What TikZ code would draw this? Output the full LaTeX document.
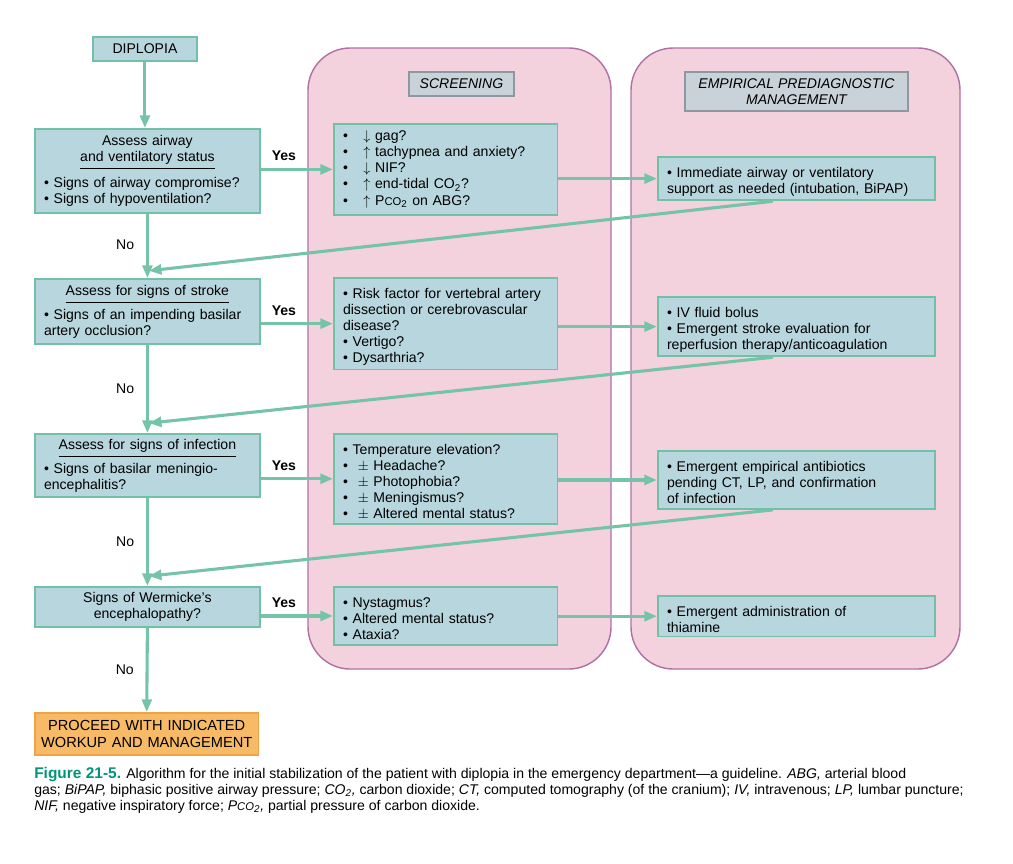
\documentclass[tikz,border=0pt]{standalone}
\usepackage{fontspec}
\setmainfont{Liberation Sans}
\usepackage{tikz}
\usetikzlibrary{arrows.meta,calc,positioning}
\definecolor{boxfill}{RGB}{184,214,222}
\definecolor{boxline}{RGB}{114,192,165}
\definecolor{flowcol}{RGB}{118,196,168}
\definecolor{panelfill}{RGB}{243,210,221}
\definecolor{panelline}{RGB}{176,112,166}
\definecolor{headfill}{RGB}{200,210,216}
\definecolor{headline}{RGB}{140,152,162}
\definecolor{endfill}{RGB}{247,186,102}
\definecolor{endline}{RGB}{242,162,64}
\definecolor{figgreen}{RGB}{0,148,120}

\newcommand{\bitem}{\par\hangindent=0.62em\hangafter=1\noindent\textbullet\ }
\newcommand{\headln}[1]{\underline{\strut #1}}

\begin{document}
\begin{tikzpicture}[x=0.025cm, y=-0.025cm,
    flowbox/.style={draw=boxline, fill=boxfill, line width=1.3pt, inner xsep=6.5pt, inner ysep=3pt,
        font=\fontsize{10}{11.4}\selectfont, anchor=north west, align=left},
    headbox/.style={draw=headline, fill=headfill, line width=1.3pt, inner sep=2pt,
        font=\fontsize{10}{11.4}\selectfont\itshape, align=center, anchor=north west},
    panel/.style={draw=panelline, fill=panelfill, line width=1pt, rounded corners=30pt},
    flow/.style={draw=flowcol, line width=2.2pt, -{Triangle[length=9pt,width=7pt]}},
    yeslbl/.style={font=\fontsize{10}{12}\selectfont\bfseries, above=1.5pt},
    nolbl/.style={font=\fontsize{10}{12}\selectfont, left=5pt}]
    \useasboundingbox (0,0) rectangle (1013,863);

    % columns
    \draw[panel] (308,48) rectangle (611,669);
    \draw[panel] (631,48) rectangle (960,669);
    \node[headbox, minimum width=74.7pt, minimum height=17.1pt] (scrhead) at (408,71) {SCREENING};
    \node[headbox, minimum width=158.6pt, minimum height=27.7pt] (manhead) at (684,71) {EMPIRICAL PREDIAGNOSTIC\\MANAGEMENT};

    % left column
    \node[flowbox, align=center, minimum width=74pt, minimum height=17.1pt, inner sep=2pt] (diplo) at (92,36) {DIPLOPIA};
    \node[flowbox, text width=147pt, minimum height=59.8pt] (ass1) at (34,128)
        {{\centering Assess airway\\\headln{and ventilatory status}\par}\vspace{5pt}%
         \bitem Signs of airway compromise?\bitem Signs of hypoventilation?};
    \node[flowbox, text width=147pt, minimum height=46.2pt] (ass2) at (34,278)
        {{\centering\headln{Assess for signs of stroke}\par}\vspace{3.5pt}%
         \bitem Signs of an impending basilar\\artery occlusion?};
    \node[flowbox, text width=147pt, minimum height=44.8pt] (ass3) at (34,433)
        {{\centering\headln{Assess for signs of infection}\par}\vspace{3.5pt}%
         \bitem Signs of basilar meningio-\\encephalitis?};
    \node[flowbox, text width=147pt, minimum height=28.5pt, align=center] (ass4) at (34,586)
        {Signs of Wermicke's\\encephalopathy?};
    \node[flowbox, draw=endline, fill=endfill, text width=151pt, inner xsep=4pt, minimum height=29.9pt, align=center,
        font=\fontsize{10.4}{11.6}\selectfont] (proceed) at (34,712)
        {PROCEED WITH INDICATED\\WORKUP AND MANAGEMENT};

    % screening column
    \node[flowbox, text width=146pt, minimum height=64.7pt] (scr1) at (333,123)
        {\textbullet\hspace{1.1em}$\downarrow$ gag?\\
         \textbullet\hspace{1.1em}$\uparrow$ tachypnea and anxiety?\\
         \textbullet\hspace{1.1em}$\downarrow$ NIF?\\
         \textbullet\hspace{1.1em}$\uparrow$ end-tidal CO\textsubscript{2}?\\
         \textbullet\hspace{1.1em}$\uparrow$ P{\fontsize{8}{8}\selectfont CO}\textsubscript{2} on ABG?};
    \node[flowbox, text width=146pt, minimum height=63.3pt] (scr2) at (333,277)
        {\bitem Risk factor for vertebral artery\\dissection or cerebrovascular\\disease?%
         \bitem Vertigo?\bitem Dysarthria?};
    \node[flowbox, text width=146pt, minimum height=63.3pt] (scr3) at (333,433)
        {\bitem Temperature elevation?\\
         \textbullet\hspace{0.7em}$\pm$ Headache?\\
         \textbullet\hspace{0.7em}$\pm$ Photophobia?\\
         \textbullet\hspace{0.7em}$\pm$ Meningismus?\\
         \textbullet\hspace{0.7em}$\pm$ Altered mental status?};
    \node[flowbox, text width=146pt, minimum height=41.3pt] (scr4) at (333,586)
        {\bitem Nystagmus?\bitem Altered mental status?\bitem Ataxia?};

    % management column
    \node[flowbox, text width=184pt, minimum height=29.9pt] (man1) at (657,156)
        {\bitem Immediate airway or ventilatory\\support as needed (intubation, BiPAP)};
    \node[flowbox, text width=184pt, minimum height=41.3pt] (man2) at (657,296)
        {\bitem IV fluid bolus\bitem Emergent stroke evaluation for\\reperfusion therapy/anticoagulation};
    \node[flowbox, text width=184pt, minimum height=41.3pt] (man3) at (657,450)
        {\bitem Emergent empirical antibiotics\\pending CT, LP, and confirmation\\of infection};
    \node[flowbox, text width=184pt, minimum height=28.5pt] (man4) at (657,595)
        {\bitem Emergent administration of\\thiamine};

    % connectors
    \draw[flow] (diplo.south) -- (diplo.south |- ass1.north);
    \draw[flow] (ass1.south) -- node[nolbl, pos=0.48] {No} (ass2.north);
    \draw[flow] (ass2.south) -- node[nolbl] {No} (ass3.north);
    \draw[flow] (ass3.south) -- node[nolbl] {No} (ass4.north);
    \draw[flow] (ass4.south) -- node[nolbl] {No} (proceed.north);

    \foreach \i in {1,2,3,4} {
        \draw[flow] (ass\i.east |- scr\i.west) -- node[yeslbl, pos=0.32] {Yes} (scr\i.west);
        \draw[flow] (scr\i.east |- man\i.west) -- (man\i.west);
    }

    % back to the main line
    \foreach \i/\j in {1/2,2/3,3/4} {
        \coordinate (m\i) at ($(man\i.south west)!0.415!(man\i.south east)$);
        \coordinate (t\i) at ($(ass\i.south)!0.89!(ass\j.north)$);
        \draw[flow, shorten >=1pt] (m\i) -- (t\i);
    }

    % caption
    \node[anchor=north west, align=left, inner sep=0pt, font=\fontsize{10}{11.3}\selectfont] (cap) at (34,767)
        {{\color{figgreen}\fontsize{11}{11.3}\selectfont\bfseries Figure 21-5.} Algorithm for the initial stabilization of the patient with diplopia in the emergency department—a guideline. \textit{ABG,} arterial blood\\
         gas; \textit{BiPAP,} biphasic positive airway pressure; \textit{CO\textsubscript{2},} carbon dioxide; \textit{CT,} computed tomography (of the cranium); \textit{IV,} intravenous; \textit{LP,} lumbar puncture;\\
         \textit{NIF,} negative inspiratory force; \textit{P{\fontsize{8}{8}\selectfont CO}\textsubscript{2},} partial pressure of carbon dioxide.};
\end{tikzpicture}
\end{document}
